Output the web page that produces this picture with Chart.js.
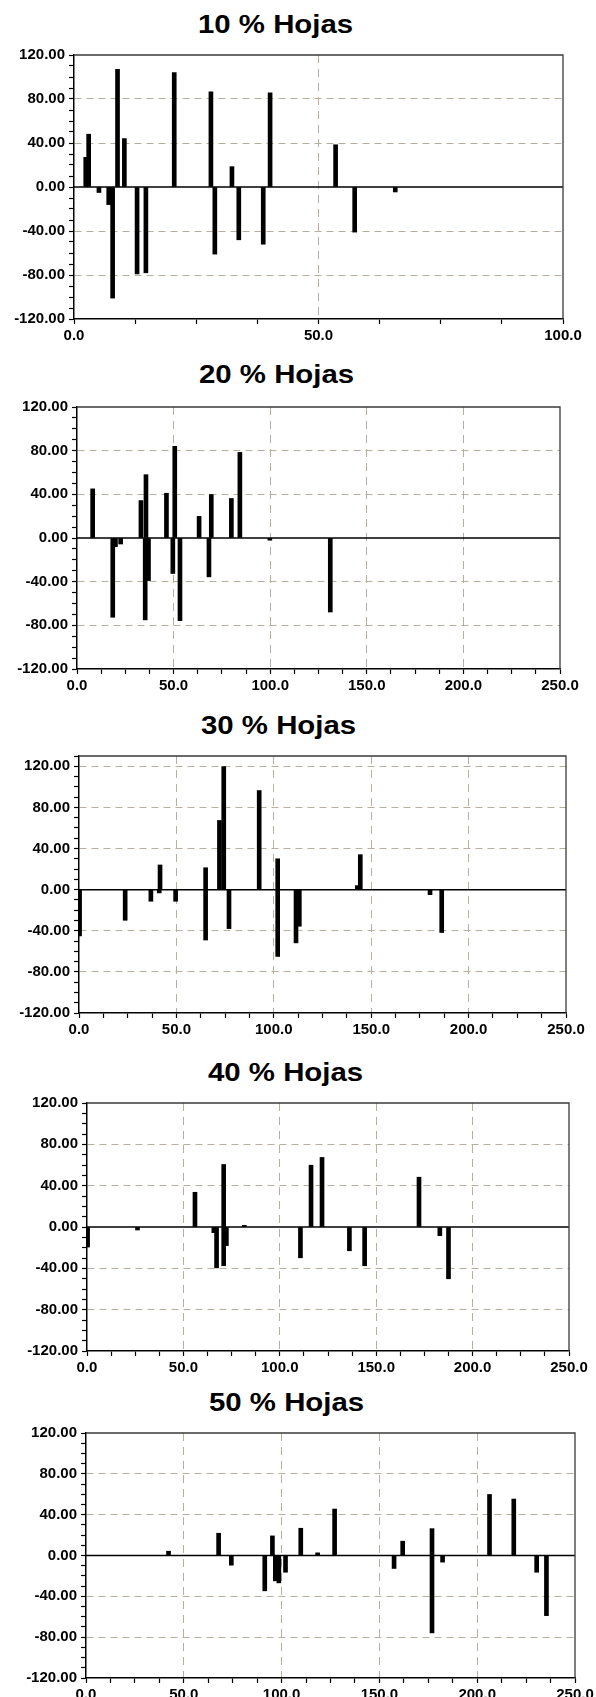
<!DOCTYPE html>
<html>
<head>
<meta charset="utf-8">
<script src="https://cdn.jsdelivr.net/npm/chart.js@4/dist/chart.umd.min.js"></script>
<style>
html, body { margin: 0; padding: 0; background: #fff; }
body { width: 596px; height: 1697px; position: relative; overflow: hidden; }
canvas { position: absolute; left: 0; }
.title {
    position: absolute;
    font: bold 26px "Liberation Sans", Arial, sans-serif;
    line-height: 26px;
    white-space: nowrap;
    color: #000;
    transform: scaleX(1.13);
    transform-origin: 0 0;
}
</style>
</head>
<body>
<script>
// Values (x position, bar height)
var titles = ['10 % Hojas', '20 % Hojas', '30 % Hojas', '40 % Hojas', '50 % Hojas'];

var x10 = [2.4, 3.0, 5.1, 7.1, 7.9, 8.9, 10.3, 12.9, 14.7, 20.5, 28.0, 28.8, 32.3, 33.7, 38.7, 40.1, 53.5, 57.4, 65.7];
var y10 = [27, 48, -5, -16, -101, 107, 44, -79, -78, 104, 86.5, -61, 18.5, -48, -52, 85.6, 38.4, -41, -4.5];

var x20 = [8.1, 18.5, 19.9, 22.6, 33.1, 35.3, 35.7, 37.0, 46.3, 49.6, 50.6, 53.3, 63.2, 68.3, 69.5, 79.9, 84.3, 99.8, 131.1];
var y20 = [45, -72.6, -8, -5.5, 34.3, -75, 58, -39, 41, -32.5, 84, -75.7, 19.8, -35.6, 39.8, 36.2, 78.4, -2, -67.8];

var x30 = [0.3, 23.7, 36.9, 41.2, 41.6, 49.6, 65.0, 65.0, 72.1, 74.3, 77.0, 92.5, 102.0, 102.0, 111.4, 113.1, 142.9, 144.4, 180.2, 186.2];
var y30 = [-45, -29.8, -11.3, -3.2, 24, -11.3, 21.3, -49, 67.3, 119.7, -37.9, 96.4, 30, -65, -51.8, -35.6, 3.9, 34, -4.9, -41.7];

var x40 = [0.3, 26.2, 56.0, 65.8, 67.2, 70.9, 70.9, 72.3, 81.6, 110.7, 116.2, 121.9, 136.1, 144.0, 172.2, 183.0, 187.5];
var y40 = [-19.4, -2.9, 33.6, -5.5, -39.5, 60.5, -37.5, -18, 1.6, -29.8, 59.8, 67.3, -23, -37.5, 48.2, -8.4, -50.1];

var x50 = [42.2, 67.8, 74.3, 91.4, 95.3, 96.8, 98.6, 102.0, 109.8, 118.4, 127.1, 157.5, 161.9, 176.9, 176.9, 182.3, 206.3, 218.7, 230.4, 235.4];
var y50 = [4.2, 21.8, -9.5, -34.6, 19.2, -24.8, -26.8, -16.4, 26.7, 2.6, 45.5, -12.7, 14, 26.3, -75.8, -6.5, 59.8, 55.3, -16.4, -58.9];

// axis ranges
var xMaxes = [100, 250, 250, 250, 250];
var yMins = [-120, -120, -120, -120, -120];
var yMaxes = [120, 120, 130, 120, 120];

var FONT = '"Liberation Sans", Arial, sans-serif';
var GRID = '#b7b0a1';
var CLEAR = 'rgba(0,0,0,0)';

// frame on top and right of the plot
var framePlugin = {
    id: 'frame',
    afterDraw: function(chart) {
        var a = chart.chartArea, c = chart.ctx;
        c.save();
        c.strokeStyle = '#3a3a3a';
        c.lineWidth = 1.3;
        c.beginPath();
        c.moveTo(a.left, a.top);
        c.lineTo(a.right, a.top);
        c.lineTo(a.right, a.bottom);
        c.stroke();
        c.restore();
    }
};

function makeChart(title, xs, ys, xMax, yMin, yMax, box) {
    var t = document.createElement('div');
    t.className = 'title';
    t.textContent = title;
    t.style.left = box.tx + 'px';
    t.style.top = (box.base - 22) + 'px';
    document.body.appendChild(t);

    var padTop = 12, axisH = 32;
    var canvas = document.createElement('canvas');
    canvas.width = 596;
    canvas.height = box.b - box.t + padTop + axisH;
    canvas.style.top = (box.t - padTop) + 'px';
    document.body.appendChild(canvas);

    var points = xs.map(function(x, i) { return {x: x, y: ys[i]}; });

    new Chart(canvas.getContext('2d'), {
        type: 'bar',
        data: {
            datasets: [{
                type: 'line',
                data: [{x: 0, y: 0}, {x: xMax, y: 0}],
                borderColor: '#000',
                borderWidth: 1.5,
                pointRadius: 0,
                order: 0
            }, {
                data: points,
                backgroundColor: '#000',
                barThickness: 4,
                grouped: false,
                order: 1
            }]
        },
        options: {
            responsive: false,
            animation: false,
            devicePixelRatio: 1,
            layout: { padding: { top: padTop, right: 596 - box.r, bottom: 0, left: 0 } },
            plugins: { legend: { display: false }, tooltip: { enabled: false } },
            scales: {
                x: {
                    type: 'linear',
                    min: 0,
                    max: xMax,
                    offset: false,
                    ticks: {
                        stepSize: 12.5,
                        maxTicksLimit: 100,
                        autoSkip: false,
                        maxRotation: 0,
                        minRotation: 0,
                        padding: 3,
                        color: '#000',
                        font: { family: FONT, size: 15, weight: 'bold' },
                        callback: function(v) { return v % 50 === 0 ? v.toFixed(1) : ''; }
                    },
                    grid: {
                        offset: false,
                        lineWidth: 1,
                        color: function(c) {
                            var v = c.tick ? c.tick.value : 0;
                            return (v % 50 === 0 && v > 0 && v < xMax) ? GRID : CLEAR;
                        },
                        tickColor: '#000',
                        tickLength: 5,
                        tickWidth: 1.2
                    },
                    border: { color: '#000', width: 1.5, dash: [8, 6] },
                    afterFit: function(s) { s.height = axisH; s.paddingLeft = 0; s.paddingRight = 0; }
                },
                y: {
                    min: yMin,
                    max: yMax,
                    ticks: {
                        stepSize: 10,
                        maxTicksLimit: 100,
                        autoSkip: false,
                        padding: 4,
                        color: '#000',
                        font: { family: FONT, size: 15, weight: 'bold' },
                        callback: function(v) { return v % 40 === 0 ? v.toFixed(2) : ''; }
                    },
                    grid: {
                        lineWidth: 1,
                        color: function(c) {
                            var v = c.tick ? c.tick.value : 0;
                            return (v % 40 === 0 && v !== 0 && v > yMin && v < yMax) ? GRID : CLEAR;
                        },
                        tickColor: '#000',
                        tickLength: 5,
                        tickWidth: 1.2
                    },
                    border: { color: '#000', width: 1.5, dash: [7, 5] },
                    afterFit: function(s) { s.width = box.l; s.paddingTop = 0; s.paddingBottom = 0; }
                }
            }
        },
        plugins: [framePlugin]
    });
}

// plot boxes in page pixels
var boxes = [
    { l: 74, r: 563, t: 55,   b: 319,  tx: 198, base: 33 },
    { l: 77, r: 560, t: 407,  b: 669,  tx: 199, base: 383 },
    { l: 79, r: 566, t: 756,  b: 1013, tx: 201, base: 734 },
    { l: 87, r: 569, t: 1103, b: 1351, tx: 208, base: 1081 },
    { l: 86, r: 575, t: 1433, b: 1678, tx: 209, base: 1411 }
];

var xsAll = [x10, x20, x30, x40, x50];
var ysAll = [y10, y20, y30, y40, y50];

for (var i = 0; i < 5; i++) {
    makeChart(titles[i], xsAll[i], ysAll[i], xMaxes[i], yMins[i], yMaxes[i], boxes[i]);
}
</script>
</body>
</html>
